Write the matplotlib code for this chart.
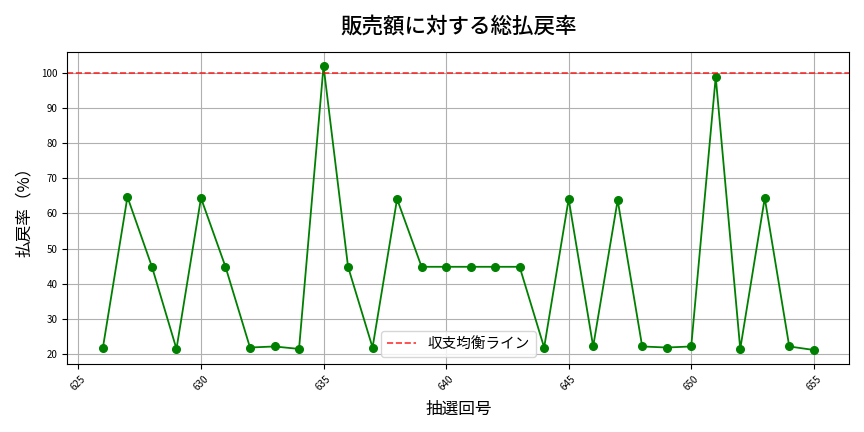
import numpy as np
import matplotlib.pyplot as plt

plt.rcParams['font.family'] = ['Noto Sans CJK JP', 'DejaVu Sans']

draws = list(range(626, 656))
rates = [21.8, 64.7, 44.8, 21.4, 64.4, 44.8, 21.8, 22.1, 21.4, 102.0,
         44.8, 21.8, 64.1, 44.8, 44.8, 44.8, 44.8, 44.8, 21.8, 64.1,
         22.1, 63.8, 22.1, 21.8, 22.1, 98.9, 21.4, 64.4, 22.1, 21.1]
breakeven = 100

def main():
	fig, ax = plt.subplots(figsize=(8.64, 4.32), dpi=100)
	fig.subplots_adjust(left=0.078, right=0.983, top=0.88, bottom=0.157)
	ax.plot(draws, rates, marker="o", color="green", markersize=5.5, linewidth=1.3)
	ax.axhline(breakeven, color="red", linestyle="--", alpha=0.8, linewidth=1.2, label="収支均衡ライン")
	ax.set_title("販売額に対する総払戻率", fontsize=15.5, pad=14, fontweight="medium")
	ax.set_xlabel("抽選回号", fontsize=12, labelpad=6)
	ax.set_ylabel("払戻率（%）", fontsize=12, labelpad=6)
	ax.tick_params(axis="x", labelrotation=45, labelsize=7)
	ax.tick_params(axis="y", labelsize=7)
	ax.grid(True)
	ax.legend(loc="lower center", fontsize=10.5)
	plt.savefig("out.png")
	plt.close(fig)

if __name__ == "__main__":
	main()
